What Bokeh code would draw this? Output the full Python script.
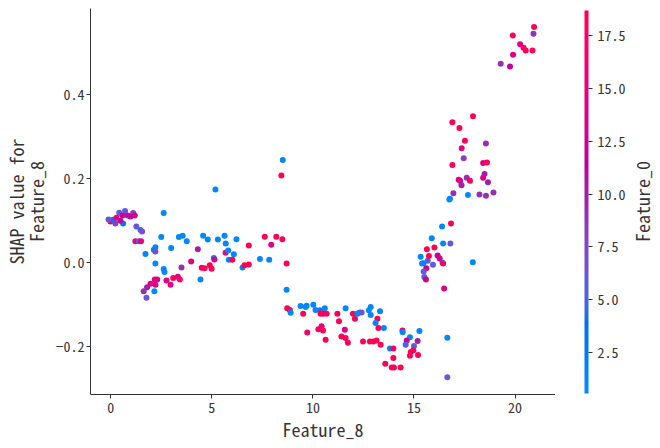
import numpy as np
from bokeh.plotting import figure
from bokeh.layouts import row
from bokeh.models import (ColumnDataSource, LinearColorMapper, ColorBar, FixedTicker, Range1d, Label,
                          PrintfTickFormatter)
from bokeh.embed import file_html
from bokeh.resources import INLINE

# ---------------- data ----------------
feature_8 = [
    -0.01, 0.42, 0.71, 1.11, 1.19, 0.58, 0.61, 0.23, 0.12, 0.83, 0.98, 0.28, -0.11, 0.48,
    1.27, 1.47, 1.55, 1.22, 1.39, 1.50, 1.72, 2.21, 2.13, 2.21, 2.50, 2.62, 2.99, 3.37,
    3.56, 3.76, 4.57, 4.80, 4.31, 5.18, 5.30, 5.63, 5.69, 6.22, 5.68, 6.09, 5.81, 5.10,
    5.13, 3.98, 5.84, 6.01, 2.21, 3.50, 4.50, 4.64, 4.90, 4.99, 2.62, 2.66, 4.44, 6.52,
    6.62, 6.83, 6.83, 2.18, 2.30, 1.97, 1.80, 1.63, 1.77, 2.16, 2.21, 2.76, 2.96, 3.09,
    3.32, 3.42,
    8.51, 8.44, 7.62, 8.19, 8.49, 7.94, 7.38, 7.84, 8.70, 8.70,
    8.73, 8.86, 8.90, 9.39, 9.64, 9.69, 10.02, 10.13, 10.35, 10.59, 9.52, 10.38, 10.38,
    10.51, 10.68, 9.72, 10.27, 10.43, 10.50, 10.63, 11.21, 11.29, 11.62, 11.58, 11.41,
    11.62, 11.73, 11.98, 12.08, 12.20, 12.31, 12.41, 12.77, 12.86, 12.86, 13.32, 13.19,
    13.10, 13.24, 13.51, 12.48, 12.82, 12.99, 13.15, 13.35, 13.81, 13.98, 13.98, 13.58,
    13.90, 14.01, 14.34, 14.43, 14.44, 15.27, 14.80, 14.64, 15.18, 14.59, 15.00, 14.97,
    14.84, 14.80, 15.20, 16.65, 16.65,
    15.33, 15.40, 15.47, 15.68, 15.94, 16.41, 16.44, 15.61, 15.48, 15.51, 15.59, 15.74,
    16.17, 16.27, 15.64, 16.01, 16.44, 16.80, 15.88, 16.39, 16.83, 16.49, 17.91,
    17.92, 16.90, 17.25, 17.52, 18.56, 17.36, 17.46, 16.90, 18.42, 18.61, 18.49, 18.42,
    18.66, 17.21, 17.28, 17.35, 17.61, 17.77, 16.95, 16.78, 16.75, 17.67, 18.24, 18.56,
    18.93,
    20.94, 20.91, 19.89, 20.25, 20.42, 20.53, 20.86, 19.90, 19.29, 19.75,
]
shap_feature_8 = [
    0.098, 0.119, 0.123, 0.118, 0.112, 0.112, 0.093, 0.093, 0.102, 0.112, 0.110, 0.107, 0.103, 0.100,
    0.086, 0.078, 0.074, 0.051, 0.051, 0.051, 0.021, 0.037, 0.031, 0.027, 0.061, 0.118, 0.035, 0.061,
    0.064, 0.051, 0.064, 0.055, 0.032, 0.174, 0.055, 0.064, 0.046, 0.056, 0.024, 0.020, 0.029, 0.011,
    0.008, 0.003, 0.007, 0.007, -0.002, -0.011, -0.012, -0.013, -0.006, -0.014, -0.015, -0.022, -0.040, -0.011,
    -0.006, -0.004, 0.041, -0.040, -0.040, -0.050, -0.058, -0.068, -0.083, -0.068, -0.052, -0.042, -0.052, -0.036,
    -0.033, -0.040,
    0.244, 0.207, 0.062, 0.062, 0.056, 0.043, 0.009, 0.007, -0.002, -0.064,
    -0.108, -0.112, -0.119, -0.103, -0.105, -0.102, -0.100, -0.112, -0.113, -0.108, -0.121, -0.117, -0.121,
    -0.121, -0.121, -0.166, -0.158, -0.151, -0.161, -0.183, -0.121, -0.139, -0.108, -0.159, -0.175,
    -0.179, -0.190, -0.121, -0.133, -0.121, -0.118, -0.118, -0.113, -0.105, -0.124, -0.115, -0.133,
    -0.143, -0.155, -0.155, -0.187, -0.187, -0.187, -0.185, -0.195, -0.204, -0.204, -0.226, -0.240,
    -0.249, -0.249, -0.249, -0.161, -0.165, -0.162, -0.177, -0.185, -0.186, -0.195, -0.198, -0.208,
    -0.212, -0.221, -0.219, -0.178, -0.272,
    0.014, -0.002, -0.001, 0.005, -0.005, 0.000, -0.002, -0.013, -0.021, -0.034, -0.040, 0.016,
    0.017, 0.010, 0.032, 0.036, 0.046, 0.046, 0.058, 0.086, 0.093, -0.061, 0.001,
    0.348, 0.334, 0.320, 0.290, 0.283, 0.272, 0.248, 0.232, 0.237, 0.238, 0.211, 0.202,
    0.191, 0.197, 0.195, 0.184, 0.202, 0.195, 0.165, 0.152, 0.150, 0.161, 0.162, 0.159,
    0.167,
    0.560, 0.544, 0.540, 0.519, 0.511, 0.504, 0.504, 0.494, 0.473, 0.466,
]
feature_0 = [
    14, 6, 6, 8, 13, 13, 3, 8, 4, 10, 12, 15, 6, 11,
    6, 5, 7, 15, 5, 15, 1, 1, 1, 7, 1, 1, 1, 1,
    1, 1, 1, 1, 10, 1, 1, 1, 1, 1, 16, 1, 1, 1,
    14, 14, 1, 18, 1, 9, 18, 18, 18, 18, 1, 1, 1, 1,
    18, 18, 18, 14, 14, 14, 10, 9, 6, 1, 14, 15, 14, 18,
    14, 18,
    1, 18, 18, 18, 18, 14, 1, 1, 18, 1,
    18, 18, 1, 1, 1, 1, 1, 1, 1, 1, 18, 8, 18,
    18, 18, 16, 18, 15, 18, 18, 18, 18, 1, 14, 18,
    18, 18, 18, 18, 1, 1, 6, 1, 1, 1, 1, 18,
    1, 18, 1, 18, 18, 18, 18, 18, 1, 18, 18, 18,
    18, 18, 18, 16, 1, 1, 1, 13, 10, 5, 6, 18,
    18, 18, 18, 1, 6,
    1, 1, 1, 5, 6, 1, 18, 13, 6, 6, 13, 18,
    12, 13, 18, 18, 1, 6, 1, 1, 18, 14, 1,
    18, 18, 18, 18, 9, 14, 8, 18, 14, 18, 10, 14,
    10, 14, 14, 10, 9, 18, 9, 1, 1, 1, 9, 9,
    9,
    18, 9, 18, 14, 18, 18, 18, 14, 9, 12,
]
x_ticks = [0, 5, 10, 15, 20]
y_ticks = [-0.2, 0.0, 0.2, 0.4]
y_tick_labels = ["\u22120.2", "0.0", "0.2", "0.4"]
cbar_ticks = [2.5, 5.0, 7.5, 10.0, 12.5, 15.0, 17.5]
cbar_low, cbar_high = 0.55, 18.7
x_title = "Feature_8"
y_title_lines = ["SHAP value for", "Feature_8"]
color_title = "Feature_0"

# ---------------- SHAP red_blue colormap (LCH interpolation) ----------------
def lch_to_hex(l, c, h):
    a = c * np.cos(h)
    b = c * np.sin(h)
    fy = (l + 16) / 116.0
    fx = fy + a / 500.0
    fz = fy - b / 200.0

    def finv(t):
        return t ** 3 if t ** 3 > 0.008856 else (t - 16 / 116.0) / 7.787

    X = 0.95047 * finv(fx)
    Y = finv(fy)
    Z = 1.08883 * finv(fz)
    rgb = [3.2406 * X - 1.5372 * Y - 0.4986 * Z,
           -0.9689 * X + 1.8758 * Y + 0.0415 * Z,
           0.0557 * X - 0.2040 * Y + 1.0570 * Z]
    out = []
    for v in rgb:
        v = 1.055 * v ** (1 / 2.4) - 0.055 if v > 0.0031308 else 12.92 * v
        out.append(int(round(min(max(v, 0.0), 1.0) * 255)))
    return "#%02x%02x%02x" % tuple(out)

blue_lch = [54.0, 70.0, 4.6588]
l_mid = 40.0
red_lch = [54.0, 90.0, 0.35470565 + 2 * np.pi]
nsteps = 100
l_vals = list(np.linspace(blue_lch[0], l_mid, nsteps // 2)) + list(np.linspace(l_mid, red_lch[0], nsteps // 2))
c_vals = np.linspace(blue_lch[1], red_lch[1], nsteps)
h_vals = np.linspace(blue_lch[2], red_lch[2], nsteps)
palette = [lch_to_hex(l, c, h) for l, c, h in zip(l_vals, c_vals, h_vals)]

mapper = LinearColorMapper(palette=palette, low=cbar_low, high=cbar_high)

FONT = "'Noto Sans Mono CJK SC', 'DejaVu Sans Mono', monospace"
INK = "#333333"
H = 448
TOP, BOTTOM = 8, 54
FRAME_H = H - TOP - BOTTOM
LEFT_W = 51
CB_W = 105

source = ColumnDataSource(dict(x=feature_8, y=shap_feature_8, c=feature_0))


def helper(width):
    f = figure(width=width, height=H, output_backend="svg", toolbar_location=None,
               x_range=Range1d(0, width), y_range=Range1d(0, FRAME_H),
               x_axis_type=None, y_axis_type=None,
               min_border_left=0, min_border_right=0, min_border_top=TOP, min_border_bottom=BOTTOM)
    f.outline_line_color = None
    f.grid.visible = False
    f.border_fill_color = "white"
    return f


# ---------------- y-axis title panel ----------------
ylp = helper(LEFT_W)
for xs, line in zip([15, 35], y_title_lines):
    ylp.add_layout(Label(x=xs, y=FRAME_H - 193, text=line,
                         angle=90, angle_units="deg", text_align="center", text_baseline="middle",
                         text_font=FONT, text_font_size="18px", text_color=INK))

# ---------------- main scatter ----------------
p = figure(width=660 - LEFT_W - CB_W, height=H, output_backend="svg", toolbar_location=None,
           x_range=Range1d(-1.0, 22.0), y_range=Range1d(-0.313, 0.604),
           min_border_left=90 - LEFT_W, min_border_right=0, min_border_top=TOP, min_border_bottom=BOTTOM)
p.outline_line_color = None
p.grid.visible = False
p.border_fill_color = "white"

p.scatter("x", "y", source=source, size=6, line_color=None,
          fill_color={"field": "c", "transform": mapper})

for ax in (p.xaxis[0], p.yaxis[0]):
    ax.axis_line_color = INK
    ax.major_tick_line_color = INK
    ax.major_tick_in = 0
    ax.major_tick_out = 4
    ax.minor_tick_line_color = None
    ax.major_label_text_color = INK
    ax.major_label_text_font = FONT
    ax.major_label_text_font_size = "14px"
    ax.major_label_standoff = 2
    ax.axis_label_text_font = FONT
    ax.axis_label_text_font_size = "18px"
    ax.axis_label_text_font_style = "normal"
    ax.axis_label_text_color = INK
    ax.axis_label_standoff = 0

p.xaxis.major_label_standoff = 3
p.xaxis.ticker = FixedTicker(ticks=x_ticks)
p.yaxis.ticker = FixedTicker(ticks=y_ticks)
p.yaxis.major_label_overrides = {t: s for t, s in zip(y_ticks, y_tick_labels)}
p.xaxis.axis_label = x_title

# ---------------- colour bar panel ----------------
cbp = helper(CB_W)
cb = ColorBar(color_mapper=mapper, location=(29, 1), width=4, height=383,
              padding=0, margin=0, ticker=FixedTicker(ticks=cbar_ticks),
              formatter=PrintfTickFormatter(format="%.1f"),
              major_tick_in=0, major_tick_out=4, major_tick_line_color=INK,
              minor_tick_line_color=None,
              major_label_text_font=FONT, major_label_text_font_size="14px",
              major_label_text_color=INK, label_standoff=5,
              bar_line_color=None, border_line_color=None, background_fill_color=None)
cbp.add_layout(cb)
cbp.add_layout(Label(x=86, y=FRAME_H - 193, text=color_title,
                     angle=90, angle_units="deg", text_align="center", text_baseline="middle",
                     text_font=FONT, text_font_size="18px", text_color=INK))

layout = row(ylp, p, cbp, spacing=0)
open("out.html", "w").write(file_html(layout, INLINE))
